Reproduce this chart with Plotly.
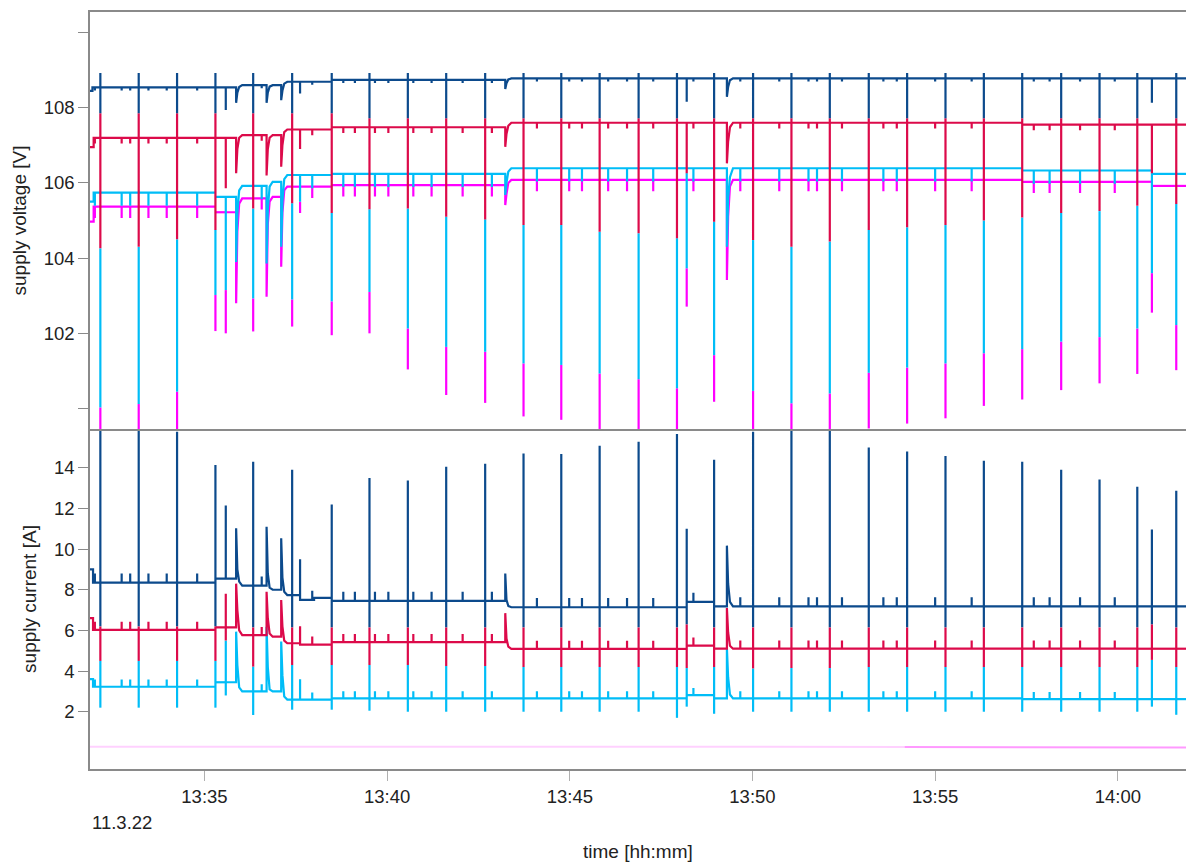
import plotly.graph_objects as go
from datetime import datetime

DAY = "2022-03-11 "

# ---------------- data ----------------
x_start, x_end = "13:31:52", "14:01:52"
x_tick_times = ["13:35:00", "13:40:00", "13:45:00", "13:50:00", "13:55:00", "14:00:00"]
x_tick_labels = ["13:35", "13:40", "13:45", "13:50", "13:55", "14:00"]
v_tick_vals = [100, 102, 104, 106, 108, 110]
v_tick_labels = ["", "102", "104", "106", "108", ""]
i_tick_vals = [2, 4, 6, 8, 10, 12, 14]
i_tick_labels = ["2", "4", "6", "8", "10", "12", "14"]

# load events (main periodic ones and a few extra ones)
event_times = ["13:32:09", "13:33:12", "13:34:15", "13:35:18", "13:35:35", "13:35:52", "13:36:20",
               "13:36:42", "13:37:06", "13:37:24", "13:37:37", "13:38:29", "13:39:31", "13:40:34",
               "13:41:37", "13:42:41", "13:43:14", "13:43:44", "13:44:46", "13:45:49", "13:46:53",
               "13:47:56", "13:48:12", "13:48:57", "13:49:18", "13:50:01", "13:51:04", "13:52:07",
               "13:53:11", "13:54:14", "13:55:17", "13:56:20", "13:57:23", "13:58:27", "13:59:30",
               "14:00:32", "14:00:56", "14:01:36"]
N = None

# ---- supply voltage [V] ----
v_blue_level_t = ["13:31:52", "13:31:56", "13:35:52", "13:37:06", "13:38:29", "13:43:14"]
v_blue_level = [108.45, 108.54, 108.60, 108.69, 108.74, 108.78]
v_red_level_t = ["13:31:52", "13:31:58", "13:35:52", "13:37:06", "13:38:29", "13:43:14", "13:57:23"]
v_red_level = [106.95, 107.20, 107.27, 107.42, 107.48, 107.60, 107.55]
v_cyan_level_t = ["13:31:52", "13:31:58", "13:35:18", "13:35:52", "13:36:42", "13:37:06", "13:38:29",
                  "13:43:14", "13:57:23", "14:00:56"]
v_cyan_level = [105.50, 105.74, 105.63, 105.92, 106.03, 106.21, 106.24, 106.39, 106.33, 106.24]
v_mag_level_t = ["13:31:52", "13:31:58", "13:35:18", "13:35:52", "13:36:42", "13:37:06", "13:38:29",
                 "13:43:14", "13:57:23", "14:00:56"]
v_mag_level = [104.97, 105.37, 105.22, 105.59, 105.63, 105.90, 105.94, 106.08, 106.03, 105.92]

v_blue_hi = [108.92, 108.92, 108.92, 108.92, N, N, 108.92, N, N, 108.92, N, 108.92, 108.92, 108.92,
             108.92, 108.92, N, 108.92, 108.92, 108.92, 108.92, 108.92, N, 108.92, N, 108.92, 108.92,
             108.92, 108.92, 108.92, 108.92, 108.92, 108.92, 108.92, 108.92, 108.92, N, 108.92]
v_blue_lo = [107.85, 107.85, 107.85, 107.85, 107.94, 108.13, 107.85, 108.13, 108.20, 107.85, 108.38,
             107.85, 107.72, 107.72, 107.72, 107.72, 108.50, 107.72, 107.72, 107.72, 107.72, 107.72,
             108.16, 107.72, 108.29, 107.72, 107.72, 107.72, 107.72, 107.72, 107.72, 107.72, 107.72,
             107.72, 107.72, 107.72, 108.13, 107.72]
v_red_hi = [107.85, 107.85, 107.85, 107.85, N, N, 107.85, N, N, 107.85, N, 107.85, 107.72, 107.72,
            107.72, 107.72, N, 107.72, 107.72, 107.72, 107.72, 107.72, N, 107.72, N, 107.72, 107.72,
            107.72, 107.72, 107.72, 107.72, 107.72, 107.72, 107.72, 107.72, 107.72, N, 107.72]
v_red_lo = [104.26, 104.30, 104.50, 104.75, 105.86, 106.26, 105.32, 106.20, 106.43, 105.46, 106.90,
            105.20, 105.30, 105.32, 105.10, 105.03, 106.96, 104.88, 104.88, 104.70, 104.66, 104.53,
            106.26, 104.97, 106.52, 104.48, 104.30, 104.44, 104.75, 104.82, 104.88, 105.00, 105.08,
            105.20, 105.25, 105.39, 106.26, 105.44]
v_cyan_hi = [106.75, 106.75, 106.75, 106.75, N, N, 106.75, N, N, 106.75, N, 106.75, 106.75, 106.75,
             106.75, 106.75, N, 106.75, 106.75, 106.75, 106.75, 106.75, N, 106.75, N, 106.75, 106.75,
             106.75, 106.75, 106.75, 106.75, 106.75, 106.75, 106.75, 106.75, 106.75, N, 106.75]
v_cyan_lo = [100.03, 100.12, 100.45, 103.02, 103.15, 103.90, 102.93, 103.86, 104.30, 102.90, 105.50,
             102.85, 103.10, 102.13, 101.64, 101.51, 105.68, 101.20, 101.16, 100.93, 100.78, 100.54,
             103.73, 101.42, 104.30, 100.47, 100.14, 100.40, 100.95, 101.09, 101.20, 101.47, 101.58,
             101.78, 101.90, 102.13, 103.60, 102.22]
v_mag_hi = [106.30, 106.30, 106.30, 106.30, N, N, 106.30, N, N, 106.30, N, 106.30, 106.30, 106.30,
            106.30, 106.30, N, 106.30, 106.30, 106.30, 106.30, 106.30, N, 106.30, N, 106.30, 106.30,
            106.30, 106.30, 106.30, 106.30, 106.30, 106.30, 106.30, 106.30, 106.30, N, 106.30]
v_mag_lo = [99.00, 99.00, 99.30, 102.06, 102.00, 102.80, 102.05, 102.97, 103.77, 102.18, 105.20,
            101.95, 102.00, 101.04, 100.36, 100.15, 105.41, 99.79, 99.70, 99.20, 99.20, 99.20,
            102.71, 100.18, 103.42, 99.20, 99.20, 99.20, 99.47, 99.60, 99.74, 100.07, 100.24,
            100.49, 100.67, 100.92, 102.55, 101.02]

# ---- supply current [A] ----
i_blue_level_t = ["13:31:52", "13:31:57", "13:35:18", "13:35:52", "13:36:42", "13:37:06", "13:37:37",
                  "13:38:00", "13:38:29", "13:43:14", "13:48:12", "13:48:57"]
i_blue_level = [9.00, 8.35, 8.55, 8.20, 8.00, 7.74, 7.50, 7.60, 7.45, 7.14, 7.40, 7.18]
i_red_level_t = ["13:31:52", "13:31:57", "13:35:18", "13:35:52", "13:36:42", "13:37:06", "13:37:37",
                 "13:38:29", "13:43:14", "13:48:12", "13:48:57"]
i_red_level = [6.60, 6.03, 6.15, 5.77, 5.69, 5.37, 5.30, 5.42, 5.09, 5.25, 5.10]
i_cyan_level_t = ["13:31:52", "13:31:57", "13:35:18", "13:35:52", "13:37:06", "13:38:29", "13:48:12",
                  "13:48:57", "13:57:23"]
i_cyan_level = [3.60, 3.23, 3.45, 3.00, 2.60, 2.66, 2.82, 2.66, 2.62]
i_mag_t_a = ["13:31:52", "13:54:10"]
i_mag_a = [0.28, 0.27]
i_mag_t_b = ["13:54:10", "14:01:52"]
i_mag_b = [0.27, 0.24]

i_blue_hi = [17.0, 17.0, 15.77, 14.14, 12.14, 11.02, 14.30, 11.10, 10.53, 13.90, 9.50, 12.20, 13.50,
             13.37, 14.05, 14.20, 8.80, 14.70, 14.68, 15.09, 15.28, 15.66, 11.00, 14.40, 10.17, 15.77,
             17.0, 17.0, 15.00, 14.80, 14.58, 14.35, 14.30, 13.90, 13.43, 13.07, 10.97, 12.87]
i_blue_lo = [6.20, 6.20, 6.20, 6.20, N, N, 6.15, N, N, 6.15, N, 6.15, 6.15, 6.15, 6.15, 6.15, N,
             6.15, 6.15, 6.15, 6.15, 6.15, 6.30, 6.15, N, 6.15, 6.15, 6.15, 6.15, 6.15, 6.15, 6.15,
             6.15, 6.15, 6.15, 6.15, 6.30, 6.15]
i_red_hi = [6.70, 6.70, 6.70, 6.70, 7.80, 8.30, 6.70, 7.90, 7.50, 6.70, 6.20, 6.70, 6.70, 6.70, 6.70,
            6.70, 6.85, 6.70, 6.70, 6.70, 6.70, 6.70, 6.70, 6.70, 7.10, 6.70, 6.70, 6.70, 6.70, 6.70,
            6.70, 6.70, 6.70, 6.70, 6.70, 6.70, 6.67, 6.70]
i_red_lo = [4.50, 4.50, 4.50, 4.50, 5.50, N, 4.22, N, N, 4.30, N, 4.30, 4.30, 4.30, 4.25, 4.25, N,
            4.20, 4.20, 4.20, 4.20, 4.20, 4.15, 4.20, N, 4.13, 4.15, 4.15, 4.20, 4.20, 4.20, 4.20,
            4.20, 4.20, 4.20, 4.20, 4.55, 4.20]
i_cyan_hi = [4.90, 4.90, 4.90, 4.90, 5.94, 5.94, 4.90, 6.18, 5.45, 4.90, 3.60, 4.90, 4.90, 4.90, 4.90,
             4.90, N, 4.90, 4.90, 4.90, 4.90, 4.90, 4.90, 4.90, 5.13, 4.90, 4.90, 4.90, 4.90, 4.90,
             4.90, 4.90, 4.90, 4.90, 4.90, 4.90, 4.90, 4.90]
i_cyan_lo = [2.20, 2.20, 2.20, 2.20, 2.80, N, 1.84, N, N, 2.10, N, 2.10, 2.05, 2.00, 2.00, 2.00, N,
             2.00, 2.00, 2.00, 2.00, 1.70, 2.25, 1.90, N, 2.00, 2.00, 2.00, 2.00, 2.00, 2.00, 2.00,
             2.00, 2.00, 2.00, 2.00, 2.25, 1.85]

# slow recoveries after some events (index of event -> sample times)
tail_times = {5: ["13:35:54", "13:35:57", "13:36:02"],
              7: ["13:36:44", "13:36:47", "13:36:52"],
              8: ["13:37:08", "13:37:11", "13:37:16"],
              16: ["13:43:16", "13:43:19", "13:43:24"],
              24: ["13:49:20", "13:49:23", "13:49:28"]}
v_blue_tail = {5: [108.40, 108.55, 108.60], 7: [108.40, 108.56, 108.60], 8: [108.45, 108.64, 108.69],
               16: [108.65, 108.75, 108.78], 24: [108.55, 108.73, 108.78]}
v_red_tail = {5: [106.90, 107.20, 107.27], 7: [106.90, 107.20, 107.27], 8: [107.00, 107.35, 107.42],
              16: [107.30, 107.52, 107.60], 24: [107.10, 107.48, 107.60]}
v_cyan_tail = {5: [105.20, 105.80, 105.92], 7: [105.30, 105.90, 106.03], 8: [105.50, 106.10, 106.21],
               16: [106.00, 106.30, 106.39], 24: [105.60, 106.15, 106.39]}
v_mag_tail = {5: [104.70, 105.45, 105.59], 7: [104.90, 105.50, 105.63], 8: [105.20, 105.80, 105.90],
              16: [105.70, 106.00, 106.08], 24: [105.10, 105.90, 106.08]}
i_blue_tail = {5: [9.00, 8.40, 8.20], 7: [8.80, 8.10, 8.00], 8: [8.60, 7.90, 7.74],
               16: [7.50, 7.20, 7.14], 24: [8.30, 7.40, 7.18]}
i_red_tail = {5: [7.00, 6.00, 5.77], 7: [6.60, 5.85, 5.69], 8: [6.20, 5.50, 5.37],
              16: [5.60, 5.20, 5.09], 24: [5.90, 5.25, 5.10]}
i_cyan_tail = {5: [4.30, 3.20, 3.00], 7: [4.20, 3.10, 3.00], 8: [3.80, 2.75, 2.60],
               16: [2.66, 2.66, 2.66], 24: [3.70, 2.85, 2.66]}

# small glitches seen on all channels
blip_times = ["13:32:00", "13:32:44", "13:32:58", "13:33:28", "13:33:58", "13:34:48", "13:36:34",
              "13:37:57", "13:38:48", "13:39:07", "13:39:40", "13:40:02", "13:40:43", "13:41:13",
              "13:42:04", "13:42:52", "13:44:06", "13:44:59", "13:45:20", "13:46:03", "13:46:34",
              "13:47:17", "13:48:23", "13:49:40", "13:50:44", "13:51:32", "13:51:46", "13:52:27",
              "13:53:35", "13:53:57", "13:55:00", "13:56:00", "13:57:42", "13:58:08", "13:58:58",
              "13:59:55"]
v_blue_blip, v_red_blip, v_cyan_blip, v_mag_blip = -0.08, -0.15, -0.35, -0.30
i_blue_blip, i_red_blip, i_cyan_blip = 0.45, 0.40, 0.35

COL_BLUE = "#0c4a8c"
COL_RED = "#dc0a4a"
COL_CYAN = "#00bdf7"
COL_MAG = "#ff00ff"


# ---------------- assemble line series ----------------
def ts(s):
    return datetime.strptime(DAY + s, "%Y-%m-%d %H:%M:%S")


def build(level_t, level_v, hi, lo, tails, blip_amp, cover=None):
    """cover: lower end of the spike of the series drawn on top (hides the upper part)."""
    lt = [ts(s) for s in level_t]

    def level_at(t, before=False):
        val = level_v[0]
        for tt, vv in zip(lt, level_v):
            if tt < t or (tt == t and not before):
                val = vv
        return val

    ev = [ts(s) for s in event_times]
    ev_set = set(ev)
    pts = [(ts(x_start), 0, level_v[0])]
    for tt, vv in zip(lt[1:], level_v[1:]):
        if tt not in ev_set:
            pts.append((tt, 0, level_at(tt, True)))
            pts.append((tt, 1, vv))
    for i, t in enumerate(ev):
        b0, b1 = level_at(t, True), level_at(t)
        c = cover[i] if cover is not None else None
        top = hi[i] if hi[i] is not None else max(b0, b1)
        if (i not in tails and c is not None and lo[i] is not None
                and c < top and lo[i] < c):
            # only the visible part of the spike, as its own segment
            pts += [(t, 0, b0), (t, 1, None), (t, 2, c), (t, 3, lo[i]),
                    (t, 4, None), (t, 5, b1)]
            continue
        pts.append((t, 0, b0))
        if hi[i] is not None:
            pts.append((t, 1, hi[i]))
        if lo[i] is not None:
            pts.append((t, 2, lo[i]))
        if i not in tails:
            pts.append((t, 5, b1))
    for i, vals in tails.items():
        for s, v in zip(tail_times[i], vals):
            pts.append((ts(s), 0, v))
    for s in blip_times:
        t = ts(s)
        b = level_at(t)
        pts += [(t, 0, b), (t, 1, b + blip_amp), (t, 2, b)]
    pts.append((ts(x_end), 0, level_at(ts(x_end))))
    pts.sort(key=lambda p: (p[0], p[1]))
    return [p[0] for p in pts], [p[2] for p in pts]


fig = go.Figure()


def add(x, y, color, xa, ya, width=2.2):
    fig.add_trace(go.Scatter(x=x, y=y, mode="lines", xaxis=xa, yaxis=ya, connectgaps=False,
                             line=dict(color=color, width=width, simplify=False),
                             hoverinfo="skip", showlegend=False))


# voltage (top panel): magenta, cyan, red, blue on top
add(*build(v_mag_level_t, v_mag_level, v_mag_hi, v_mag_lo, v_mag_tail, v_mag_blip, v_cyan_lo),
    COL_MAG, "x2", "y2")
add(*build(v_cyan_level_t, v_cyan_level, v_cyan_hi, v_cyan_lo, v_cyan_tail, v_cyan_blip, v_red_lo),
    COL_CYAN, "x2", "y2")
add(*build(v_red_level_t, v_red_level, v_red_hi, v_red_lo, v_red_tail, v_red_blip, v_blue_lo),
    COL_RED, "x2", "y2")
add(*build(v_blue_level_t, v_blue_level, v_blue_hi, v_blue_lo, v_blue_tail, v_blue_blip),
    COL_BLUE, "x2", "y2")

# current (bottom panel)
add([ts(s) for s in i_mag_t_a], i_mag_a, "rgba(255,0,255,0.18)", "x", "y", 2.0)
add([ts(s) for s in i_mag_t_b], i_mag_b, "rgba(255,0,255,0.40)", "x", "y", 2.0)
add(*build(i_cyan_level_t, i_cyan_level, i_cyan_hi, i_cyan_lo, i_cyan_tail, i_cyan_blip, i_red_lo),
    COL_CYAN, "x", "y")
add(*build(i_red_level_t, i_red_level, i_red_hi, i_red_lo, i_red_tail, i_red_blip, i_blue_lo),
    COL_RED, "x", "y")
add(*build(i_blue_level_t, i_blue_level, i_blue_hi, i_blue_lo, i_blue_tail, i_blue_blip),
    COL_BLUE, "x", "y")

FONT = "Liberation Sans, Arial, sans-serif"
LINE = "#8a8a8a"
SPLIT = 0.4491
common_y = dict(showgrid=False, zeroline=False, showline=True, linecolor=LINE, linewidth=1.5,
                ticks="outside", ticklen=10, tickcolor=LINE, tickwidth=1, ticklabelstandoff=0,
                tickfont=dict(size=18.5, color="#222"), automargin=False)
common_x = dict(type="date", range=[ts(x_start), ts(x_end)], showgrid=False, zeroline=False,
                showline=True, linecolor=LINE, linewidth=1.5, automargin=False)

fig.update_layout(
    width=1186, height=864,
    margin=dict(l=90, r=0, t=12, b=95),
    paper_bgcolor="white", plot_bgcolor="white",
    font=dict(family=FONT, size=18.5, color="#222"),
    showlegend=False,
    xaxis=dict(**common_x, anchor="y", tickvals=[ts(s) for s in x_tick_times], ticktext=x_tick_labels,
               ticks="outside", ticklen=10, tickcolor="#b0b0b0", tickfont=dict(size=18.5, color="#222")),
    xaxis2=dict(**common_x, anchor="y2", matches="x", mirror=True, showticklabels=False, ticks=""),
    yaxis=dict(**common_y, domain=[0, SPLIT], range=[-0.817, 15.907], tickvals=i_tick_vals,
               ticktext=i_tick_labels,
               title=dict(text="supply current [A]", font=dict(size=19, color="#222"), standoff=12)),
    yaxis2=dict(**common_y, domain=[SPLIT, 1], range=[99.455, 110.545], tickvals=v_tick_vals,
                ticktext=v_tick_labels,
                title=dict(text="supply voltage [V]", font=dict(size=19, color="#222"), standoff=12)),
    annotations=[
        dict(text="11.3.22", xref="paper", yref="paper", x=0, y=-0.0713, xanchor="left",
             yanchor="middle", showarrow=False, font=dict(size=18.5, color="#222")),
        dict(text="time [hh:mm]", xref="paper", yref="paper", x=0.5, y=-0.1096, xanchor="center",
             yanchor="middle", showarrow=False, font=dict(size=19, color="#222")),
    ],
)

# remove the default 8 px page margin so the figure fills the window exactly; no toolbar
fig.write_html("out.html", config={"displayModeBar": False},
               post_script="document.body.style.margin='0';")
